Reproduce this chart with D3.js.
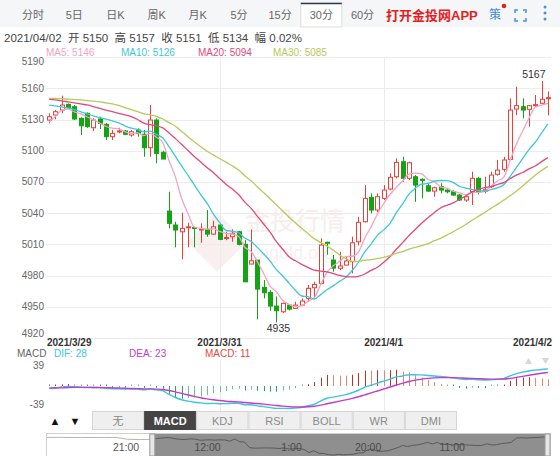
<!DOCTYPE html>
<html><head><meta charset="utf-8">
<script src="https://cdn.jsdelivr.net/npm/d3@7"></script>
<style>
html,body{margin:0;padding:0;background:#fff;}
svg{display:block;font-family:"Liberation Sans","Noto Sans CJK SC",Arial,sans-serif;}
</style></head>
<body><svg id="c" width="560" height="456"></svg>
<script>
// ---------------- data ----------------
const periodTabs = ["分时","5日","日K","周K","月K","5分","15分","30分","60分"];
const selectedTab = "30分";
const infoLine = "2021/04/02  开 5150  高 5157  收 5151  低 5134  幅 0.02%";
const maNames = ["MA5: 5146","MA10: 5126","MA20: 5094","MA30: 5085"];
const yTicks = [4920,4950,4980,5010,5040,5070,5100,5130,5160,5190];
const dateLabels = ["2021/3/29","2021/3/31","2021/4/1","2021/4/2"];
const dateIdx = [0,27,53,79];
const opens = [5129.5,5134.3,5139.1,5144.6,5142.3,5131.2,5136.0,5122.1,5130.5,5125.4,
 5113.5,5118.5,5119.0,5115.1,5119.9,5115.8,5102.9,5129.5,5098.5,5042.0,
 5028.6,5022.1,5026.5,5026.2,5024.4,5024.4,5019.9,5028.6,5016.0,5017.3,
 5022.1,5010.0,4991.1,4994.9,4968.7,4963.8,4950.7,4945.2,4951.6,4948.5,
 4951.6,4958.1,4968.3,4972.5,5012.0,4994.9,4987.0,4990.1,4993.3,5012.5,
 5031.7,5055.2,5043.0,5054.2,5063.2,5075.0,5089.4,5073.5,5075.0,5072.5,
 5066.3,5061.2,5065.4,5062.2,5060.6,5057.4,5052.6,5060.6,5073.5,5061.2,
 5065.4,5077.3,5082.1,5091.7,5140.1,5142.3,5139.8,5143.5,5145.6,5150.0];
const highs = [5136.0,5139.1,5152.9,5145.5,5143.9,5132.0,5136.9,5131.2,5132.7,5126.6,
 5119.9,5122.1,5120.0,5119.9,5121.5,5119.9,5143.9,5131.2,5100.0,5060.6,
 5031.7,5040.4,5030.8,5027.0,5030.2,5043.0,5032.7,5030.0,5022.1,5024.4,
 5023.0,5014.1,5024.4,4995.0,4975.7,4966.0,4960.0,4954.0,4952.5,4954.8,
 4958.1,4970.9,4974.0,5015.8,5012.5,4999.7,5002.9,4998.1,5017.3,5036.5,
 5067.0,5059.0,5059.0,5067.0,5078.3,5092.7,5094.2,5089.4,5076.6,5073.5,
 5068.7,5065.4,5068.7,5063.0,5062.2,5058.3,5057.4,5079.8,5075.0,5075.0,
 5079.8,5091.1,5094.2,5150.4,5161.5,5150.4,5144.0,5153.6,5167.0,5157.0];
const lows = [5126.3,5130.2,5136.0,5141.0,5129.5,5115.1,5122.1,5119.0,5120.9,5110.3,
 5110.3,5116.7,5115.0,5113.5,5113.5,5094.2,5094.2,5087.9,5092.0,5025.4,
 5007.1,4995.6,5007.1,5007.1,5011.5,5017.3,5018.9,5014.0,5014.0,5012.5,
 5009.0,4974.0,4991.0,4937.9,4958.1,4946.2,4935.0,4944.0,4946.5,4947.8,
 4950.9,4954.8,4958.0,4972.0,5000.0,4983.7,4985.3,4990.0,4982.1,5009.0,
 5031.0,5039.8,5041.0,5052.6,5062.0,5073.5,5070.2,5071.8,5050.9,5054.2,
 5060.6,5055.8,5059.0,5059.0,5056.8,5051.9,5050.9,5047.8,5058.0,5059.0,
 5064.0,5076.0,5079.8,5091.0,5134.3,5131.2,5123.1,5142.3,5144.6,5134.0];
const closes = [5132.7,5137.5,5143.9,5141.7,5130.5,5124.0,5123.1,5129.5,5126.3,5113.5,
 5116.7,5119.0,5115.8,5118.3,5116.7,5102.9,5129.5,5097.5,5092.0,5030.2,
 5023.8,5025.4,5026.9,5026.0,5024.8,5019.9,5026.9,5014.8,5016.6,5020.6,
 5010.0,4974.0,4994.2,4967.0,4963.5,4950.7,4946.2,4953.3,4947.8,4951.6,
 4955.5,4967.7,4971.5,5009.3,5011.0,4987.2,4989.2,4994.0,5011.5,5031.2,
 5054.2,5043.0,5055.8,5062.2,5074.4,5088.8,5073.5,5088.5,5067.0,5071.5,
 5061.2,5064.4,5062.2,5060.6,5057.4,5052.6,5055.8,5073.5,5060.6,5062.5,
 5076.6,5081.4,5091.1,5139.1,5143.3,5139.1,5143.3,5144.3,5149.4,5151.0];
const ma5Lead  = [5127.5,5133,5139,5140];
const ma10Lead = [5143.9,5143.2,5142.2,5141,5139.5,5137.5,5135.5,5133.5,5132];
const ma20Lead = [5149.4,5148.8,5148,5147,5146,5145,5144,5142.5,5140.8,5139,5137.5,5136,5134.5,5132.7,5130,5126.5,5125,5124,5122];
const ma30Lead = [5150.4,5150.2,5150,5149.6,5149.2,5148.8,5148.2,5147.6,5147,5146,5145,5143.5,5141.5,5139.5,5137.5,5135.5,5134.5,5133,5130.5,5127,5123.5,5118.5,5113.5,5108.5,5104,5099.5,5096,5092.5,5089];
const hiLabel = "5167", loLabel = "4935";
const macdNames = ["MACD","DIF: 28","DEA: 23","MACD: 11"];
const macdTicks = [39,-39];
const macdSeed = {ema12:5131, ema26:5135, dea:-3.5};
const indTabs = ["无","MACD","KDJ","RSI","BOLL","WR","DMI"];
const navHistory = [5146,5147,5146,5146,5145,5146,5146,5125,5122,5124];
const navTickLabels = ["21:00","12:00","1:00","20:00","11:00"];
const navTickIdx = [-6,10.5,27.5,43,60];

// ---------------- styles ----------------
const C = {up:"#e8403a", down:"#13a313", ma5:"#f3a4c0", ma10:"#3fc6da", ma20:"#e2487c", ma30:"#b8c85a",
  grid:"#ececec", axis:"#666", dif:"#3cc4e0", dea:"#c23cc8", macd:"#e04a3a"};

const svg = d3.select("#c");
svg.append("rect").attr("width",560).attr("height",456).attr("fill","#fff");

// ---------------- top bar ----------------
const tabX = d3.scalePoint().domain(periodTabs).range([33,362.5]);
svg.append("rect").attr("x",0).attr("y",0).attr("width",560).attr("height",27).attr("fill","#f5f6f8");
const selX = tabX(selectedTab);
svg.append("rect").attr("x",selX-20.5).attr("y",3).attr("width",41).attr("height",24).attr("fill","#fff").attr("stroke","#dcdde0");
svg.append("line").attr("x1",selX-20.5).attr("x2",selX+20.5).attr("y1",3.5).attr("y2",3.5).attr("stroke","#2f3a4a").attr("stroke-width",1.5);
svg.selectAll("text.tab").data(periodTabs).join("text").attr("class","tab")
  .attr("x",d=>tabX(d)).attr("y",19).attr("text-anchor","middle").attr("font-size",11).attr("fill","#666").text(d=>d);
svg.append("text").attr("x",386).attr("y",20).attr("font-size",13).attr("font-weight","bold").attr("fill","#e3211c").text("打开金投网APP");
svg.append("text").attr("x",489).attr("y",19).attr("font-size",12).attr("fill","#3f86d8").text("策");
svg.append("circle").attr("cx",504).attr("cy",6).attr("r",2.3).attr("fill","#e3211c");
const fs = svg.append("g").attr("stroke","#4a8fd8").attr("stroke-width",1.5).attr("fill","none");
[[515,10,1,1],[526,10,-1,1],[515,21,1,-1],[526,21,-1,-1]].forEach(([x,y,sx,sy])=>{
  fs.append("path").attr("d",`M${x},${y+3*sy}V${y}H${x+3*sx}`);
});
[7,13,19].forEach(y=>svg.append("circle").attr("cx",545).attr("cy",y).attr("r",1.5).attr("fill","#4a8fd8"));

// ---------------- info + legend ----------------
svg.append("text").attr("x",4).attr("y",42).attr("font-size",11.5).attr("fill","#444").attr("xml:space","preserve").text(infoLine);
const maColors = [C.ma5,C.ma10,C.ma20,C.ma30];
const maLegX = [46,121,198,273];
svg.selectAll("text.mal").data(maNames).join("text").attr("class","mal")
  .attr("x",(d,i)=>maLegX[i]).attr("y",56).attr("font-size",10).attr("fill",(d,i)=>maColors[i]).text(d=>d);

// ---------------- main chart ----------------
const idx = d3.range(closes.length);
const x = d3.scalePoint().domain(idx).range([46,551]).padding(0.5);
const y = d3.scaleLinear().domain([4920,5190]).range([338,57.1]);
const L = 46, R = 551;

// watermark (very faint)
const wm = svg.append("g");
wm.append("rect").attr("x",-21).attr("y",-21).attr("width",42).attr("height",42)
  .attr("transform","translate(217,242) rotate(45)").attr("fill","#f4dcdc").attr("opacity",0.45);
wm.append("text").attr("x",245).attr("y",230).attr("font-size",25).attr("fill","#f8eded").text("金投行情");
wm.append("text").attr("x",250).attr("y",259).attr("font-size",18).attr("fill","#f8f0f0").text("cngold.org");

svg.append("g").selectAll("line").data(yTicks).join("line")
  .attr("x1",L).attr("x2",R).attr("y1",d=>Math.round(y(d))+0.5).attr("y2",d=>Math.round(y(d))+0.5)
  .attr("stroke",C.grid);
svg.append("g").selectAll("line").data(dateIdx.slice(1,3)).join("line")
  .attr("x1",d=>Math.round(x(d))+0.5).attr("x2",d=>Math.round(x(d))+0.5).attr("y1",57).attr("y2",338)
  .attr("stroke",C.grid);
svg.append("g").selectAll("text").data(yTicks).join("text")
  .attr("x",44).attr("y",d=>Math.max(61,Math.min(333.5,y(d)))).attr("dy","0.35em").attr("text-anchor","end")
  .attr("font-size",10).attr("fill",C.axis).text(d=>d);

// date labels
const dl = svg.append("g").selectAll("text").data(dateLabels).join("text")
  .attr("y",346).attr("font-size",10).attr("font-weight","bold").attr("fill","#333").text(d=>d);
dl.each(function(d,i){
  const w = this.getComputedTextLength();
  let cx = x(dateIdx[i]) - w/2;
  cx = Math.max(47, Math.min(552 - w, cx));
  d3.select(this).attr("x",cx);
});

// moving averages
function ma(n, lead){
  return idx.map(i => i < n-1 ? lead[i] : d3.mean(closes.slice(i-n+1,i+1)));
}
const maSeries = [ma(5,ma5Lead),ma(10,ma10Lead),ma(20,ma20Lead),ma(30,ma30Lead)];
const maLine = d3.line().x((d,i)=>x(i)).y(d=>y(d)).curve(d3.curveMonotoneX);

// candles
const cg = svg.append("g");
idx.forEach(i=>{
  const up = closes[i] >= opens[i];
  const col = up ? C.up : C.down;
  const cx = Math.round(x(i)) + 0.5;
  cg.append("line").attr("x1",cx).attr("x2",cx).attr("y1",y(highs[i])).attr("y2",y(lows[i])).attr("stroke",col);
  const top = y(Math.max(opens[i],closes[i])), bot = y(Math.min(opens[i],closes[i]));
  cg.append("rect").attr("x",cx-2).attr("y",top).attr("width",4).attr("height",Math.max(1,bot-top))
    .attr("fill",up?"#fff":col).attr("stroke",col).attr("stroke-width",1);
});
svg.append("g").selectAll("path").data(maSeries).join("path")
  .attr("d",maLine).attr("fill","none").attr("stroke",(d,i)=>maColors[i]).attr("stroke-width",1.3);

const hiI = highs.indexOf(d3.max(highs)), loI = lows.indexOf(d3.min(lows));
svg.append("text").attr("x",x(hiI)+4).attr("y",y(highs[hiI])-3).attr("text-anchor","end")
  .attr("font-size",10.5).attr("fill","#333").text(hiLabel);
svg.append("text").attr("x",x(loI)+2).attr("y",y(lows[loI])+10).attr("text-anchor","middle")
  .attr("font-size",10.5).attr("fill","#333").text(loLabel);

// ---------------- MACD ----------------
const mdColors = ["#666",C.dif,C.dea,C.macd];
const mdX = [17,54,129,205];
svg.selectAll("text.mdl").data(macdNames).join("text").attr("class","mdl")
  .attr("x",(d,i)=>mdX[i]).attr("y",357).attr("font-size",10).attr("fill",(d,i)=>mdColors[i]).text(d=>d);
svg.append("path").attr("d","M525,364l3.5,-6l3.5,6z").attr("fill","#d6d6d6");
svg.append("path").attr("d","M542,358l3.5,6l3.5,-6z").attr("fill","#d6d6d6");

let e12 = macdSeed.ema12, e26 = macdSeed.ema26, dea = macdSeed.dea;
const difA=[], deaA=[], histA=[];
closes.forEach(c=>{
  e12 += (c-e12)*2/13; e26 += (c-e26)*2/27;
  const d = e12-e26; dea += (d-dea)*2/10;
  difA.push(d); deaA.push(dea); histA.push(2*(d-dea));
});
const my = d3.scaleLinear().domain([-39,39]).range([409.5,362.5]);
svg.append("g").selectAll("line").data(dateIdx.slice(1,3)).join("line")
  .attr("x1",d=>Math.round(x(d))+0.5).attr("x2",d=>Math.round(x(d))+0.5).attr("y1",360).attr("y2",411)
  .attr("stroke",C.grid);
svg.append("g").selectAll("text").data(macdTicks).join("text")
  .attr("x",44).attr("y",d=>d>0?my(d)+3:my(d)-5).attr("dy","0.35em").attr("text-anchor","end")
  .attr("font-size",10).attr("fill",C.axis).text(d=>d);
svg.append("g").selectAll("line").data(histA).join("line")
  .attr("x1",(d,i)=>Math.round(x(i))+0.5).attr("x2",(d,i)=>Math.round(x(i))+0.5)
  .attr("y1",my(0)).attr("y2",d=>Math.abs(my(d)-my(0))<1.5 ? my(0)-1.5 : my(d))
  .attr("stroke",(d,i)=>{
    const prev = i>0 ? histA[i-1] : d;
    if (d>=0) return d>=prev ? "#b8352a" : "#e08a70";
    return d<=prev ? "#2f9c74" : "#6cbf9c";
  }).attr("stroke-width",1);
const mline = arr => d3.line().x((d,i)=>x(i)).y(d=>my(d)).curve(d3.curveMonotoneX)(arr);
svg.append("path").attr("d",mline(difA)).attr("fill","none").attr("stroke",C.dif).attr("stroke-width",1.4);
svg.append("path").attr("d",mline(deaA)).attr("fill","none").attr("stroke",C.dea).attr("stroke-width",1.4);

// ---------------- indicator tabs ----------------
svg.append("text").attr("x",55).attr("y",425).attr("text-anchor","middle").attr("font-size",11).attr("fill","#111").text("▲");
svg.append("text").attr("x",75).attr("y",425).attr("text-anchor","middle").attr("font-size",11).attr("fill","#111").text("▼");
const tb = d3.scaleBand().domain(indTabs).range([92,457]);
const tg = svg.append("g").selectAll("g").data(indTabs).join("g");
tg.append("rect").attr("x",d=>tb(d)+0.5).attr("y",411.5).attr("width",tb.bandwidth()-1).attr("height",18)
  .attr("fill",d=>d==="MACD"?"#454545":"#efefef").attr("stroke",d=>d==="MACD"?"#454545":"#d5d5d5");
tg.append("text").attr("x",d=>tb(d)+tb.bandwidth()/2).attr("y",424.5).attr("text-anchor","middle")
  .attr("font-size",11).attr("font-weight",d=>d==="MACD"?"bold":"normal")
  .attr("fill",d=>d==="MACD"?"#fff":"#8a8a8a").text(d=>d);

// ---------------- navigator ----------------
const nTop = 433, nBot = 456;
const nx = d3.scaleLinear().domain([-22,79]).range([47,546]);
const allNav = navHistory.concat(closes);
const ny = d3.scaleLinear().domain(d3.extent(allNav)).range([nBot-1,nTop+4]);
svg.append("rect").attr("x",46.5).attr("y",nTop+0.5).attr("width",504).attr("height",nBot-nTop).attr("fill","#fff").attr("stroke","#d0d0d0");
svg.append("rect").attr("x",nx(-1)+4).attr("y",nTop+1).attr("width",nx(79)-nx(-1)-4).attr("height",nBot-nTop-1).attr("fill","#8f8f8f");
const hl = d3.line().x((d,i)=>nx(-22 + i*21/(navHistory.length-1))).y(d=>ny(d));
svg.append("path").attr("d",hl(navHistory)).attr("fill","none").attr("stroke","#b5b5b5");
const dln = d3.line().x((d,i)=>nx(i)).y(d=>ny(d));
svg.append("path").attr("d",dln(closes)).attr("fill","none").attr("stroke","#5a5a5a");
svg.append("rect").attr("x",nx(-1)-1).attr("y",nTop+1).attr("width",5).attr("height",nBot-nTop-1).attr("fill","#e6e6e6").attr("stroke","#9a9a9a");
svg.append("rect").attr("x",nx(79)-1).attr("y",nTop+1).attr("width",5).attr("height",nBot-nTop-1).attr("fill","#e6e6e6").attr("stroke","#9a9a9a");
svg.append("g").selectAll("text").data(navTickLabels).join("text")
  .attr("x",(d,i)=>nx(navTickIdx[i])).attr("y",451).attr("text-anchor","middle").attr("font-size",10.5)
  .attr("fill",(d,i)=>navTickIdx[i]<0?"#555":"#4a4a4a").text(d=>d);
</script></body></html>
